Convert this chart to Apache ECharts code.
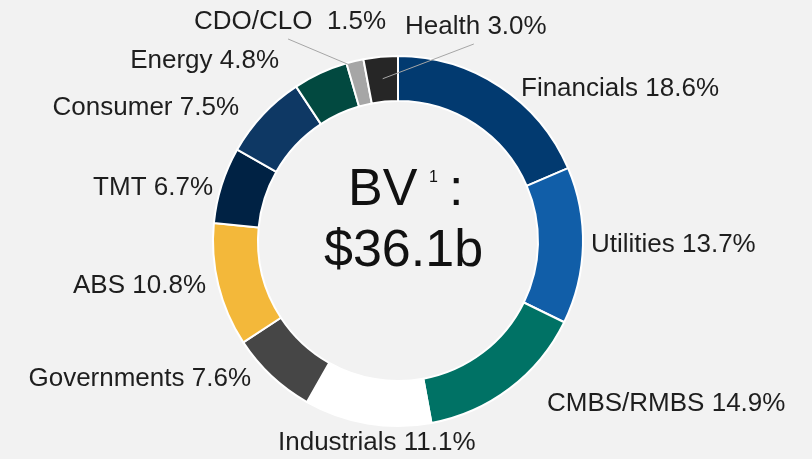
<!DOCTYPE html>
<html>
<head>
<meta charset="utf-8">
<script src="https://cdn.jsdelivr.net/npm/echarts@6/dist/echarts.min.js"></script>
<style>
  html, body { margin: 0; padding: 0; background: #f2f2f2; }
  #chart { width: 812px; height: 459px; }
</style>
</head>
<body>
<div id="chart"></div>
<script>
// Sector breakdown, clockwise from 12 o'clock
const sectors = ['Financials', 'Utilities', 'CMBS/RMBS', 'Industrials', 'Governments', 'ABS',
  'TMT', 'Consumer', 'Energy', 'CDO/CLO ', 'Health']
const shares = [18.6, 13.7, 14.9, 11.1, 7.6, 10.8, 6.7, 7.5, 4.8, 1.5, 3.0]
const colors = ['#023a70', '#115ea8', '#007265', '#ffffff', '#464646', '#f3b83a',
  '#002244', '#0e3864', '#024940', '#a6a6a6', '#262626']
const centerTitle = 'BV'
const centerNote = '1'
const centerValue = '$36.1b'

// label anchors [x, y, align] and which labels get a leader line
const labelSpots = [
  [521, 89, 'left'], [591, 245, 'left'], [547, 404, 'left'], [278, 443, 'left'],
  [251, 379, 'right'], [206, 286, 'right'], [213, 188, 'right'], [239, 108, 'right'],
  [279, 61, 'right'], [194, 22, 'left'], [405, 27, 'left']
]
const leaderRadius = { 9: 178, 10: 163 }

const cx = 398
const cy = 241
const font = "'Liberation Sans', Arial, sans-serif"

const chart = echarts.init( document.getElementById( 'chart' ) )

const total = shares.reduce( ( a, b ) => a + b, 0 )
const midAngle = i => {
  let cum = 0
  for ( let k = 0; k < i; k++ ) cum += shares[k]
  return ( cum + shares[i] / 2 ) / total * Math.PI * 2
}
const labelText = i => `${sectors[i]} ${shares[i].toFixed( 1 )}%`

const measure = document.createElement( 'canvas' ).getContext( '2d' )
measure.font = `26px ${font}`

// leader lines, drawn above the ring
const leaders = Object.keys( leaderRadius ).map( key => {
  const i = +key
  const a = midAngle( i )
  const r = leaderRadius[i]
  const s = labelSpots[i]
  const w = measure.measureText( labelText( i ) ).width
  return {
    type : 'line',
    z : 100,
    shape : {
      x1 : cx + r * Math.sin( a ),
      y1 : cy - r * Math.cos( a ),
      x2 : s[0] + w / 2 - 2,
      y2 : s[1] + 17
    },
    style : { stroke : '#a6a6a6', lineWidth : 1 }
  }
} )

chart.setOption( {
  backgroundColor : '#f2f2f2',
  graphic : [
    { type : 'text', x : 348, y : 191, style : { text : centerTitle, font : `52px ${font}`, fill : '#111', textVerticalAlign : 'middle' } },
    { type : 'text', x : 429, y : 178, style : { text : centerNote, font : `16px ${font}`, fill : '#111', textVerticalAlign : 'middle' } },
    { type : 'text', x : 449, y : 191, style : { text : ':', font : `52px ${font}`, fill : '#111', textVerticalAlign : 'middle' } },
    { type : 'text', x : 324, y : 252, style : { text : centerValue, font : `52px ${font}`, fill : '#111', textVerticalAlign : 'middle' } },
    ...leaders
  ],
  series : [
    {
      type : 'pie',
      center : [cx, cy],
      radius : [140, 185],
      startAngle : 90,
      clockwise : true,
      avoidLabelOverlap : false,
      animation : false,
      itemStyle : {
        borderColor : '#ffffff',
        borderWidth : 2
      },
      label : {
        show : true,
        position : 'outside',
        fontFamily : font,
        fontSize : 26,
        color : '#1e1e1e',
        formatter : p => labelText( p.dataIndex )
      },
      labelLine : { show : false },
      labelLayout : params => {
        const s = labelSpots[params.dataIndex]
        return { x : s[0], y : s[1], align : s[2], verticalAlign : 'middle' }
      },
      data : sectors.map( ( name, i ) => ( {
        name,
        value : shares[i],
        itemStyle : { color : colors[i] }
      } ) )
    }
  ]
} )
</script>
</body>
</html>
